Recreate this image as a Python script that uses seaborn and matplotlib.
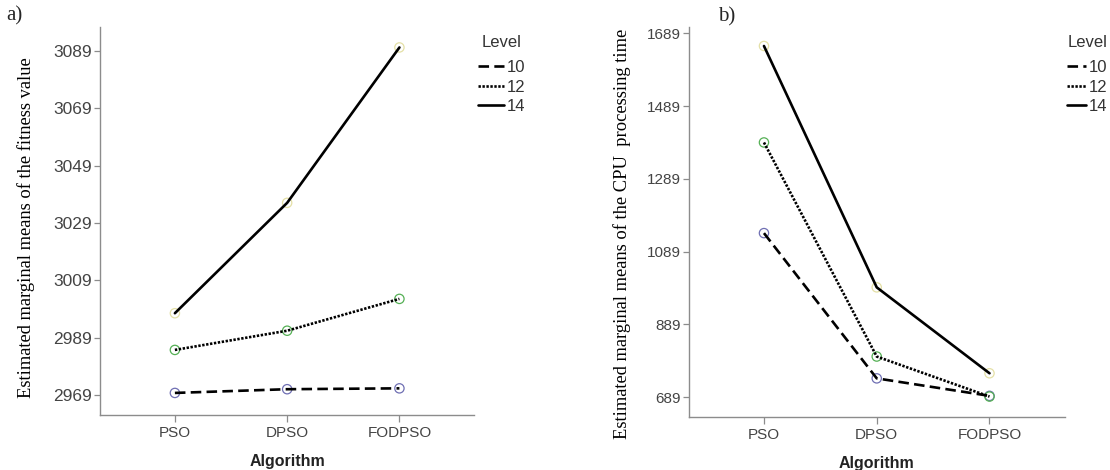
from matplotlib import pyplot as plt
import seaborn as sns
import pandas as pd
import numpy as np

algorithms = ['PSO', 'DPSO', 'FODPSO']
levels = ['10', '12', '14']

# estimated marginal means
fitness = {'10': [2969.7, 2971.0, 2971.3],
           '12': [2984.7, 2991.4, 3002.5],
           '14': [2997.5, 3036.0, 3090.2]}
cpu_time = {'10': [1140, 741, 693],
            '12': [1389, 801, 691],
            '14': [1654, 991, 755]}

fitness_ticks = [2969, 2989, 3009, 3029, 3049, 3069, 3089]
cpu_ticks = [689, 889, 1089, 1289, 1489, 1689]

marker_pal = {'10': '#6f6fb3', '12': '#55b055', '14': '#e4e0a6'}
line_pal = {'10': 'black', '12': 'black', '14': 'black'}
dash_map = {'10': (4, 2), '12': (0.9, 0.6), '14': ''}


def to_frame(d):
    return pd.DataFrame({'Algorithm': np.tile(algorithms, len(levels)),
                         'Level': np.repeat(levels, len(algorithms)),
                         'value': np.concatenate([d[l] for l in levels])})


sns.set_style('white')
plt.rcParams['font.family'] = ['Liberation Sans', 'DejaVu Sans']
serif = ['Liberation Serif', 'DejaVu Serif']

fig = plt.figure(figsize=(11.1, 4.7), dpi=100)
ax1 = fig.add_axes([0.0901, 0.117, 0.3372, 0.826])
ax2 = fig.add_axes([0.6205, 0.1134, 0.3387, 0.8298])

panels = [(ax1, to_frame(fitness), fitness_ticks, (2962.0, 3097.4),
           'Estimated marginal means of the fitness value', 12.5,
           (-0.1726, 0.483), (0.4306, 0.925), 1.55),
          (ax2, to_frame(cpu_time), cpu_ticks, (635.7, 1707.0),
           'Estimated marginal means of the CPU  processing time', 11,
           (-0.1535, 0.4697), (0.9615, 0.925), 1.1)]

for ax, df, yt, ylim, ylab, ytsize, lab_xy, leg_xy, hlen in panels:
    sns.scatterplot(data=df, x='Algorithm', y='value', hue='Level', palette=marker_pal,
                    s=45, marker='o', linewidth=0.9, legend=False, ax=ax, zorder=1)
    pts = ax.collections[-1]
    pts.set_edgecolors(pts.get_facecolors())
    pts.set_facecolors('none')
    sns.lineplot(data=df, x='Algorithm', y='value', hue='Level', style='Level',
                 palette=line_pal, dashes=dash_map, linewidth=1.9, ax=ax, zorder=2)

    ax.set_xlim(-0.667, 2.667)
    ax.set_ylim(ylim)
    ax.set_yticks(yt)
    ax.set_yticklabels([str(t) for t in yt])
    sns.despine(ax=ax)
    for side in ['left', 'bottom']:
        ax.spines[side].set_color('#8c8c8c')
        ax.spines[side].set_linewidth(1.0)
    ax.tick_params(axis='y', length=4.5, width=0.9, color='#8c8c8c', pad=1.5,
                   labelsize=ytsize, labelcolor='#444444', left=True)
    ax.tick_params(axis='x', length=5, width=0.9, color='#8c8c8c', pad=3,
                   labelsize=11, labelcolor='#444444', bottom=True)

    ax.set_ylabel(ylab, family=serif, fontsize=13.3, color='black')
    ax.yaxis.set_label_coords(*lab_xy)
    ax.set_xlabel('Algorithm', fontsize=11.5, fontweight='bold', color='#222222')
    ax.xaxis.set_label_coords(0.5, -0.1)

    sns.move_legend(ax, 'upper left', bbox_to_anchor=leg_xy, bbox_transform=fig.transFigure,
                    frameon=False, title='Level', fontsize=12, title_fontsize=12,
                    handlelength=hlen, handletextpad=0.15, labelspacing=0.28,
                    borderpad=0, borderaxespad=0)
    leg = ax.get_legend()
    leg._legend_box.sep = 7
    for t in leg.get_texts():
        t.set_color('#333333')
    leg.get_title().set_color('#333333')

fig.text(0.006, 0.966, 'a)', family=serif, fontsize=15, va='center')
fig.text(0.647, 0.965, 'b)', family=serif, fontsize=15, va='center')

fig.savefig('out.png', dpi=100)
